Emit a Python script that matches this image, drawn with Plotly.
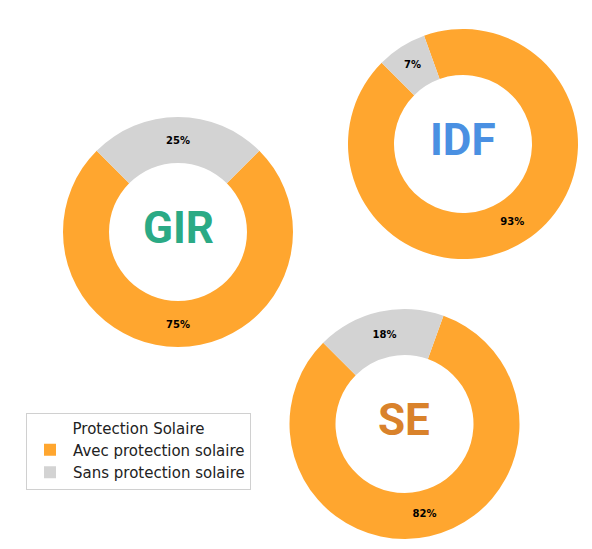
import plotly.graph_objects as go

# données
regions = ['GIR', 'IDF', 'SE']
categories = ['Avec protection solaire', 'Sans protection solaire']
avec = [75, 93, 82]
sans = [25, 7, 18]
region_colors = ['#2BAA85', '#4A90E2', '#D9822B']

W, H = 592, 549
# centre (px) et rayon de chaque donut
centers = [(178, 232), (463, 144), (404.5, 424)]
R = 115

fig = go.Figure()
for i, reg in enumerate(regions):
    cx, cy = centers[i]
    # plotly (sens anti-horaire) fixe la fin de la 1re part : on décale
    # pour que "Avec" commence toujours à 45° à gauche du haut
    rot = -45 + 360 * sans[i] / (avec[i] + sans[i])
    fig.add_trace(go.Pie(
        labels=categories,
        values=[avec[i], sans[i]],
        hole=0.6,
        sort=False,
        direction='counterclockwise',
        rotation=rot,
        marker=dict(colors=['#FFA62F', '#D3D3D3']),
        texttemplate='<b>%{percent:.0%}</b>',
        textposition='inside',
        insidetextorientation='horizontal',
        textfont=dict(family='DejaVu Sans', size=10, color='black'),
        domain=dict(x=[(cx - R) / W, (cx + R) / W],
                    y=[1 - (cy + R) / H, 1 - (cy - R) / H]),
        showlegend=(i == 0),
        hoverinfo='label+percent',
    ))
    fig.add_annotation(
        x=cx / W, y=1 - cy / H, xref='paper', yref='paper',
        xanchor='center', yanchor='middle',
        text='<b>' + reg + '</b>', showarrow=False, yshift=4,
        font=dict(family='Roboto', size=44, color=region_colors[i]),
    )

fig.update_layout(
    width=W, height=H,
    margin=dict(l=0, r=0, t=0, b=0),
    paper_bgcolor='white',
    font=dict(family='DejaVu Sans', size=15, color='#222222'),
    legend=dict(
        title=dict(text='Protection Solaire', side='top center',
                   font=dict(size=15)),
        x=26 / W, y=1 - 413 / H, xanchor='left', yanchor='top',
        bordercolor='#D0D0D0', borderwidth=1, bgcolor='white',
        font=dict(size=15), itemwidth=36,
    ),
)

# pas de marge autour du graphique dans la page
fig.write_html("out.html", config={'displayModeBar': False},
               post_script="document.body.style.margin = '0';")
